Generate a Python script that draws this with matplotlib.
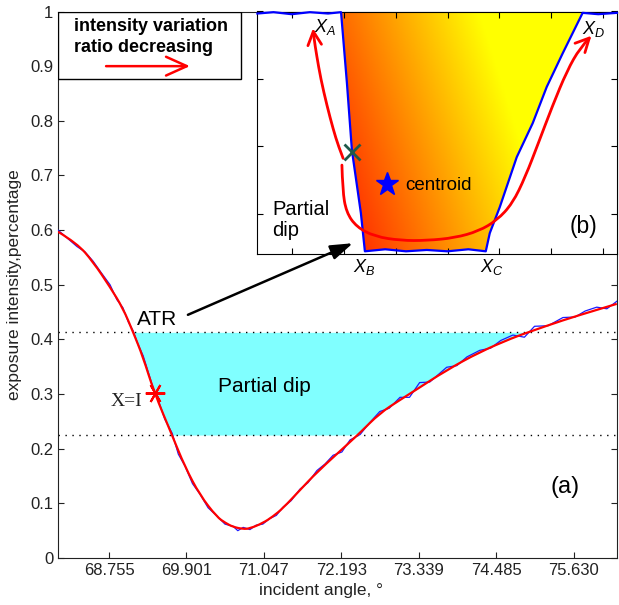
import numpy as np
import matplotlib
matplotlib.use("Agg")
import matplotlib.pyplot as plt
from matplotlib.patches import Rectangle, Polygon, FancyArrowPatch, PathPatch
from matplotlib.path import Path

plt.rcParams['font.family'] = ['Liberation Sans', 'DejaVu Sans']
plt.rcParams['mathtext.fontset'] = 'custom'
plt.rcParams['mathtext.rm'] = 'Liberation Sans'
plt.rcParams['mathtext.it'] = 'Liberation Sans:italic'

# fitted reflectance curve (red)
fit_x = [68.000, 68.281, 68.518, 68.769, 68.961, 69.109, 69.257, 69.420, 69.686,
         69.878, 70.100, 70.351, 70.480, 70.588, 70.736, 70.839, 71.031, 71.180,
         71.327, 71.578, 71.830, 72.318, 72.466, 72.761, 73.057, 73.249, 73.752,
         74.240, 74.728, 74.979, 75.467, 75.970, 76.266]
fit_y = [0.597, 0.576, 0.542, 0.496, 0.457, 0.414, 0.368, 0.304, 0.225,
         0.167, 0.115, 0.075, 0.064, 0.057, 0.053, 0.054, 0.064, 0.076,
         0.091, 0.124, 0.157, 0.212, 0.229, 0.265, 0.289, 0.304, 0.344,
         0.377, 0.403, 0.414, 0.435, 0.454, 0.465]

# measured intensity (blue)
meas_x = [68.00, 68.14, 68.28, 68.40, 68.52, 68.64, 68.77, 68.87, 68.96, 69.04,
          69.11, 69.18, 69.26, 69.34, 69.42, 69.50, 69.58, 69.69, 69.78, 69.88,
          69.99, 70.10, 70.22, 70.35, 70.47, 70.59, 70.66, 70.74, 70.84, 70.93,
          71.03, 71.13, 71.23, 71.33, 71.45, 71.58, 71.70, 71.83, 71.95, 72.07,
          72.20, 72.32, 72.47, 72.60, 72.76, 72.90, 73.06, 73.20, 73.35, 73.50,
          73.75, 73.90, 74.05, 74.24, 74.40, 74.55, 74.73, 74.90, 75.05, 75.25,
          75.47, 75.65, 75.80, 75.97, 76.12, 76.27]
meas_y = [0.600, 0.585, 0.570, 0.560, 0.543, 0.522, 0.500, 0.473, 0.458, 0.432,
          0.416, 0.392, 0.370, 0.338, 0.306, 0.283, 0.254, 0.228, 0.190, 0.168,
          0.136, 0.117, 0.092, 0.077, 0.062, 0.058, 0.050, 0.056, 0.052, 0.060,
          0.062, 0.072, 0.078, 0.093, 0.105, 0.126, 0.138, 0.160, 0.172, 0.188,
          0.194, 0.216, 0.226, 0.246, 0.268, 0.274, 0.294, 0.294, 0.321, 0.322,
          0.349, 0.352, 0.368, 0.380, 0.384, 0.398, 0.408, 0.404, 0.424, 0.425,
          0.440, 0.441, 0.452, 0.459, 0.456, 0.470]

atr_level = 0.413
dip_level = 0.225
marker_x, marker_y = 69.44, 0.302

x_ticks = [68.755, 69.901, 71.047, 72.193, 73.339, 74.485, 75.630]
x_tick_labels = ['68.755', '69.901', '71.047', '72.193', '73.339', '74.485', '75.630']
y_ticks = [0, 0.1, 0.2, 0.3, 0.4, 0.5, 0.6, 0.7, 0.8, 0.9, 1]
y_tick_labels = ['0', '0.1', '0.2', '0.3', '0.4', '0.5', '0.6', '0.7', '0.8', '0.9', '1']

# zoomed dip profile (inset b)
dip_u = [-0.66, -0.35, 0.00, 0.35, 0.70, 0.95, 1.063, 1.159, 1.332, 1.409,
         1.80, 2.20, 2.60, 3.00, 3.40, 3.736, 3.813, 4.005, 4.332, 4.640,
         4.909, 5.217, 5.601, 5.90, 6.26]
dip_v = [2.97, 2.99, 2.96, 2.99, 2.97, 2.99, 1.94, 0.94, 0.006, -0.56,
         -0.53, -0.56, -0.54, -0.56, -0.53, -0.56, -0.29, 0.095, 0.838, 1.343,
         1.88, 2.38, 2.98, 2.96, 2.98]
path_up_u = [0.99, 0.90, 0.80, 0.68, 0.56, 0.48, 0.43, 0.41]
path_up_v = [0.82, 1.00, 1.25, 1.60, 2.00, 2.35, 2.60, 2.75]
path_round_u = [0.967, 0.98, 1.05, 1.25, 1.60, 2.10, 2.60, 3.14, 3.60, 3.95,
                4.25, 4.50, 4.75, 5.02, 5.30, 5.55, 5.77]
path_round_v = [0.72, 0.35, 0.02, -0.20, -0.34, -0.40, -0.40, -0.36, -0.26, -0.10,
                0.15, 0.55, 1.05, 1.60, 2.12, 2.46, 2.64]
cross_u, cross_v = 1.17, 0.91
centroid_u, centroid_v = 1.83, 0.44


def smooth_path(xs, ys):
    # quadratic bezier through the midpoints, so the polyline is drawn rounded
    pts = list(zip(xs, ys))
    verts = [pts[0]]
    codes = [Path.MOVETO]
    for i in range(1, len(pts) - 2):
        mid = ((pts[i][0] + pts[i + 1][0]) / 2, (pts[i][1] + pts[i + 1][1]) / 2)
        verts += [pts[i], mid]
        codes += [Path.CURVE3, Path.CURVE3]
    verts += [pts[-2], pts[-1]]
    codes += [Path.CURVE3, Path.CURVE3]
    return Path(verts, codes)


fit_x = np.array(fit_x)
fit_y = np.array(fit_y)

fig = plt.figure(figsize=(6.19, 6.05), dpi=100)
ax = fig.add_axes([58 / 619, 47 / 605, 559 / 619, 546.5 / 605])

ax.fill_between(fit_x, np.maximum(fit_y, dip_level), atr_level,
                where=fit_y <= atr_level + 0.001, interpolate=True,
                color='#80FFFF', lw=0, zorder=1)
ax.axhline(atr_level, color='k', ls=(0, (1, 4)), lw=1, zorder=2)
ax.axhline(dip_level, color='k', ls=(0, (1, 4)), lw=1, zorder=2)
ax.plot(meas_x, meas_y, color='#1a1aff', lw=0.9, zorder=3)
ax.add_patch(PathPatch(smooth_path(fit_x, fit_y), fill=False, edgecolor='red',
                       lw=1.6, zorder=4))
ax.plot(marker_x, marker_y, marker=(6, 2, 90), color='red', ms=14, mew=1.5, zorder=5)

ax.set_xlim(68.0, 76.27)
ax.set_ylim(0, 1)
ax.set_xticks(x_ticks)
ax.set_xticklabels(x_tick_labels)
ax.set_yticks(y_ticks)
ax.set_yticklabels(y_tick_labels)
ax.tick_params(direction='in', length=4.5, labelsize=12, top=True, right=True,
               colors='#222222')
for sp in ax.spines.values():
    sp.set_color('#222222')
ax.set_xlabel('incident angle, °', fontsize=12.5, color='#222222', labelpad=2)
ax.xaxis.set_label_coords(0.47, -0.045)
ax.set_ylabel('exposure intensity,percentage', fontsize=12.5, color='#222222', labelpad=6)

ax.text(69.464, 0.4355, 'ATR', fontsize=15, ha='center', va='center')
ax.text(71.046, 0.313, 'Partial dip', fontsize=15, ha='center', va='center')
ax.text(69.242, 0.287, 'X=I', fontsize=14, ha='right', va='center',
        family='Liberation Serif', color='#222222')
ax.text(75.497, 0.130, '(a)', fontsize=17, ha='center', va='center')

# note box with the direction arrow
ax.add_patch(Rectangle((0, 0.876), 0.327, 0.124, transform=ax.transAxes,
                       facecolor='white', edgecolor='k', lw=1, zorder=6))
ax.text(0.0286, 0.973, 'intensity variation', transform=ax.transAxes,
        fontsize=13, fontweight='bold', va='center', zorder=7)
ax.text(0.0286, 0.935, 'ratio decreasing', transform=ax.transAxes,
        fontsize=13, fontweight='bold', va='center', zorder=7)
ax.annotate('', xy=(0.236, 0.900), xytext=(0.086, 0.900), xycoords='axes fraction',
            arrowprops=dict(arrowstyle='->,head_length=1.0,head_width=0.45',
                            color='red', lw=1.8, mutation_scale=15,
                            shrinkA=0, shrinkB=0), zorder=7)

# inset (b)
ins = fig.add_axes([257.3 / 619, (605 - 254) / 605, 359.7 / 619, 242.5 / 605])
u0, u1, v0, v1 = -0.662, 6.262, -0.60, 3.0
ins.set_xlim(u0, u1)
ins.set_ylim(v0, v1)
ins.set_xticks(range(0, 7))
ins.set_yticks(range(0, 4))
ins.tick_params(direction='in', length=4.5, labelbottom=False, labelleft=False,
                top=True, right=True)

uu, vv = np.meshgrid(np.linspace(u0, u1, 300), np.linspace(v0, v1, 200))
shade = np.clip(-0.053 + 0.217 * uu + 0.089 * vv, 0, 1)
img = ins.imshow(shade, extent=(u0, u1, v0, v1), origin='lower', cmap='autumn',
                 vmin=0, vmax=1, aspect='auto', interpolation='bilinear', zorder=1)
outline = list(zip(dip_u[5:23], dip_v[5:23])) + [(5.601, 3.0), (0.95, 3.0)]
clip = Polygon(outline, closed=True, transform=ins.transData,
               facecolor='none', edgecolor='none')
ins.add_patch(clip)
img.set_clip_path(clip)
ins.plot(dip_u, dip_v, color='blue', lw=1.6, zorder=3, clip_on=False)

for pu, pv in [(path_up_u, path_up_v), (path_round_u, path_round_v)]:
    ins.add_patch(FancyArrowPatch(path=smooth_path(pu, pv),
                                  arrowstyle='->,head_length=0.7,head_width=0.35',
                                  mutation_scale=14, color='red', lw=2,
                                  transform=ins.transData, zorder=4))

ins.plot(cross_u, cross_v, marker='x', color='#1f5a4a', ms=11, mew=2, zorder=5)
ins.plot(centroid_u, centroid_v, marker='*', color='blue', ms=17, zorder=5)
ins.text(2.18, 0.42, 'centroid', fontsize=13.5, va='center', zorder=6)
ins.text(-0.38, -0.10, 'Partial\ndip', fontsize=14.5, va='center',
         linespacing=1.15, zorder=6)
ins.text(5.62, -0.19, '(b)', fontsize=16.5, ha='center', va='center', zorder=6)
ins.text(0.64, 2.77, r'$X_A$', fontsize=13, ha='center', va='center', zorder=6)
ins.text(5.81, 2.74, r'$X_D$', fontsize=13, ha='center', va='center', zorder=6)
ins.text(1.39, -0.80, r'$X_B$', fontsize=13, ha='center', va='center', clip_on=False)
ins.text(3.85, -0.80, r'$X_C$', fontsize=13, ha='center', va='center', clip_on=False)

# arrow from the ATR label into the inset, drawn above both axes
fig.add_artist(FancyArrowPatch(posA=(69.922, 0.445), posB=(72.362, 0.576),
                               transform=ax.transData,
                               arrowstyle='-|>,head_length=0.9,head_width=0.3',
                               mutation_scale=15, color='k', lw=1.8,
                               shrinkA=0, shrinkB=0, zorder=10))

fig.savefig('out.png', dpi=100)
